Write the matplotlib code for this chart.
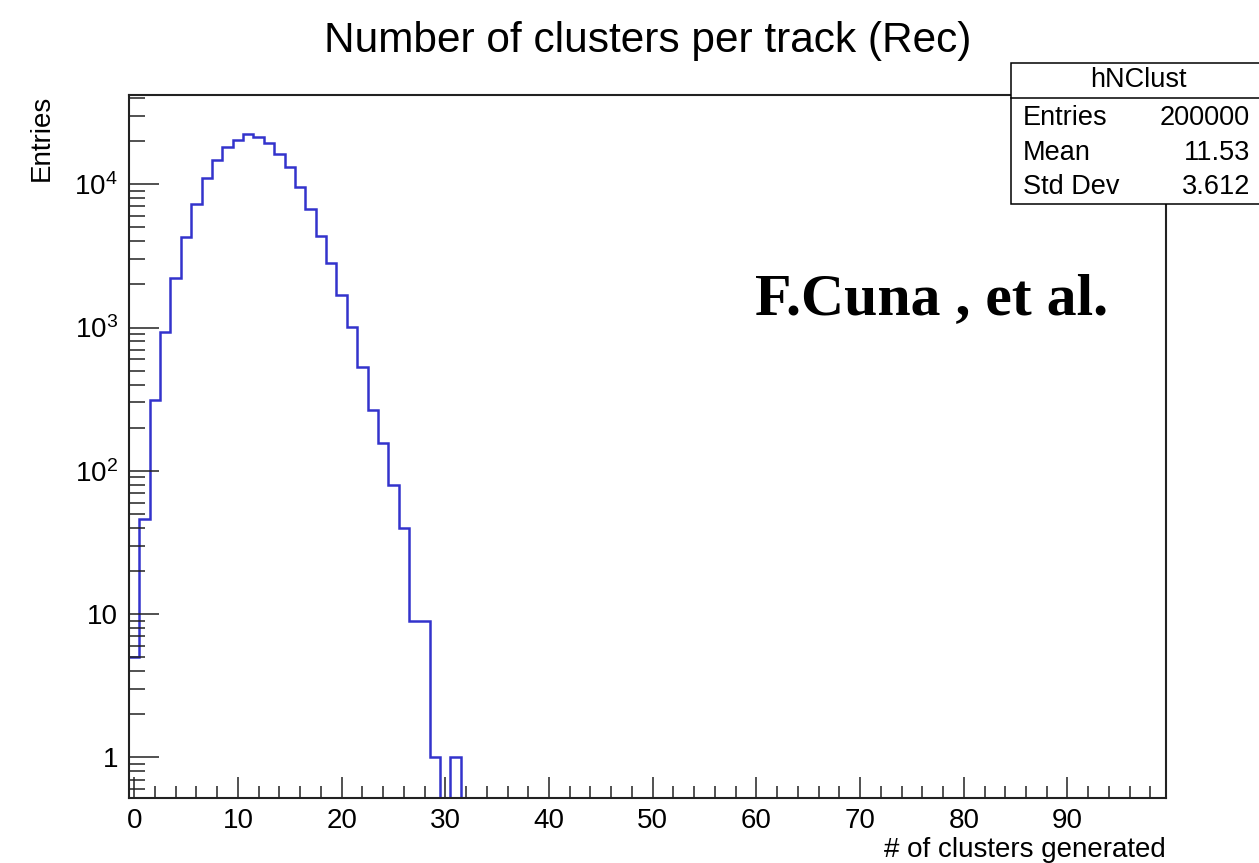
import numpy as np
import matplotlib.pyplot as plt
import matplotlib
from matplotlib.patches import Rectangle
from matplotlib.lines import Line2D
from matplotlib.ticker import MultipleLocator, LogLocator, NullFormatter

matplotlib.rc('font', family='Liberation Sans')
matplotlib.rc('mathtext', fontset='custom', rm='Liberation Sans',
              it='Liberation Sans:italic', bf='Liberation Sans:bold')

# hNClust : number of clusters per track, one bin per integer value
n_clusters = np.arange(33)
entries = [5, 46, 312, 935, 2207, 4307, 7285, 11010, 14790, 18120,
           20380, 22440, 21290, 19500, 16200, 13150, 9530, 6730, 4377, 2810,
           1688, 1014, 528, 264, 156, 80, 40, 9, 9, 1,
           0, 1, 0]

stat_names = ['Entries', 'Mean', 'Std Dev']
stat_values = ['200000', '11.53', '3.612']

y_ticks = [1, 10, 100, 1000, 10000]
y_ticklabels = ['1', '10', r'$10^{2}$', r'$10^{3}$', r'$10^{4}$']

W, H = 1259, 863


def fx(x):
    return x / W


def fy(y):
    return 1 - y / H


fig = plt.figure(figsize=(W / 100, H / 100), dpi=100)
ax = fig.add_axes([fx(129), fy(798), (1166 - 129) / W, (798 - 95) / H])

edges = np.append(n_clusters - 0.5, n_clusters[-1] + 0.5)
ax.stairs(entries, edges, baseline=None, color='#3333cc', lw=1.8,
          joinstyle='miter')

ax.set_yscale('log')
ax.set_xlim(-0.5, 99.5)
ax.set_ylim(0.52, 4.2e4)

ax.xaxis.set_major_locator(MultipleLocator(10))
ax.xaxis.set_minor_locator(MultipleLocator(2))
ax.set_yticks(y_ticks)
ax.set_yticklabels(y_ticklabels)
ax.yaxis.set_minor_locator(LogLocator(base=10, subs=np.arange(2, 10)))
ax.yaxis.set_minor_formatter(NullFormatter())

ax.tick_params(which='both', direction='in', top=False, right=False,
               width=1.1, color='#222222', labelsize=20)
ax.xaxis.set_tick_params(which='major', length=15, pad=7)
ax.xaxis.set_tick_params(which='minor', length=8.3)
ax.yaxis.set_tick_params(which='major', length=21.6, pad=8)
ax.yaxis.set_tick_params(which='minor', length=11.3)
for sp in ax.spines.values():
    sp.set_linewidth(1.5)
    sp.set_color('#222222')

ax.set_xlabel('# of clusters generated', fontsize=20, loc='right', labelpad=2)
ax.set_ylabel('Entries', fontsize=20, loc='top', labelpad=14)

fig.text(fx(647.5), fy(52), 'Number of clusters per track (Rec)',
         fontsize=30.5, ha='center', va='baseline')

fig.text(fx(755), fy(314), 'F.Cuna , et al.', family='Liberation Serif',
         fontweight='bold', fontsize=43, ha='left', va='baseline')

# stats box
fig.add_artist(Rectangle((fx(1011), fy(204)), (1265 - 1011) / W, (204 - 63.3) / H,
                         transform=fig.transFigure, facecolor='white',
                         edgecolor='black', lw=1.1, zorder=5))
fig.add_artist(Line2D([fx(1011), 1.0], [fy(97.7), fy(97.7)],
                      transform=fig.transFigure, color='black', lw=1.1, zorder=6))
fig.text(fx(1138), fy(80), 'hNClust', fontsize=19.5, ha='center', va='center', zorder=7)
for i, (name, val) in enumerate(zip(stat_names, stat_values)):
    y = 118 + i * 34.5
    fig.text(fx(1023), fy(y), name, fontsize=19.5, ha='left', va='center', zorder=7)
    fig.text(fx(1250), fy(y), val, fontsize=19.5, ha='right', va='center', zorder=7)

fig.savefig('out.png', dpi=100)
